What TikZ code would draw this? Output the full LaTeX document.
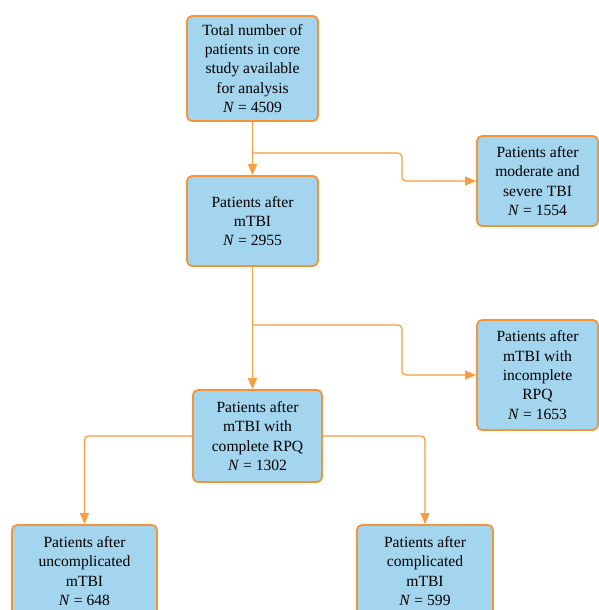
\documentclass[tikz,border=0pt]{standalone}
\usepackage{fontspec}
\setmainfont{Liberation Serif}
\usetikzlibrary{arrows.meta}
\definecolor{boxfill}{RGB}{164,213,238}
\definecolor{boxline}{RGB}{243,148,54}
\definecolor{connline}{RGB}{245,158,66}
\begin{document}
\begin{tikzpicture}[x=1pt,y=1pt,
  box/.style={draw=boxline, line width=1.8pt, fill=boxfill, rounded corners=5pt,
    align=center, inner sep=0pt, font=\fontsize{15.6}{19.3}\selectfont},
  conn/.style={draw=connline, line width=1.3pt, rounded corners=4pt},
  arr/.style={-{Triangle[length=11pt,width=9pt]}}]
\useasboundingbox (0,0) rectangle (599,-610);
\fill[white] (0,0) rectangle (599,-610);

\node[box, minimum width=131pt, minimum height=105pt] (top) at (252.5,-68.5)
  {Total number of\\patients in core\\study available\\for analysis\\\textit{N} = 4509};
\node[box, minimum width=131pt, minimum height=90pt] (b2) at (252.5,-221)
  {Patients after\\mTBI\\\textit{N} = 2955};
\node[box, minimum width=121pt, minimum height=90pt] (r1) at (537.5,-181)
  {Patients after\\moderate and\\severe TBI\\\textit{N} = 1554};
\node[box, minimum width=121pt, minimum height=110pt] (r2) at (537.5,-375)
  {Patients after\\mTBI with\\incomplete\\RPQ\\\textit{N} = 1653};
\node[box, minimum width=129pt, minimum height=92pt] (b3) at (257.5,-436)
  {Patients after\\mTBI with\\complete RPQ\\\textit{N} = 1302};
\node[box, minimum width=145pt, minimum height=92pt] (bl) at (84.5,-571)
  {Patients after\\uncomplicated\\mTBI\\\textit{N} = 648};
\node[box, minimum width=136pt, minimum height=92pt] (br) at (425,-571)
  {Patients after\\complicated\\mTBI\\\textit{N} = 599};

\coordinate (j1) at (252.5,-153);
\coordinate (k1) at (402,-153);
\coordinate (j2) at (252.5,-325);
\coordinate (k2) at (402,-325);

\draw[conn, arr] (top.south) -- (b2.north);
\draw[conn, arr] (j1) -- (k1) |- (r1.west);
\draw[conn, arr] (b2.south) -- (b2.south |- b3.north);
\draw[conn, arr] (j2) -- (k2) |- (r2.west);
\draw[conn, arr] (b3.west) -| (bl.north);
\draw[conn, arr] (b3.east) -| (br.north);
\end{tikzpicture}
\end{document}
